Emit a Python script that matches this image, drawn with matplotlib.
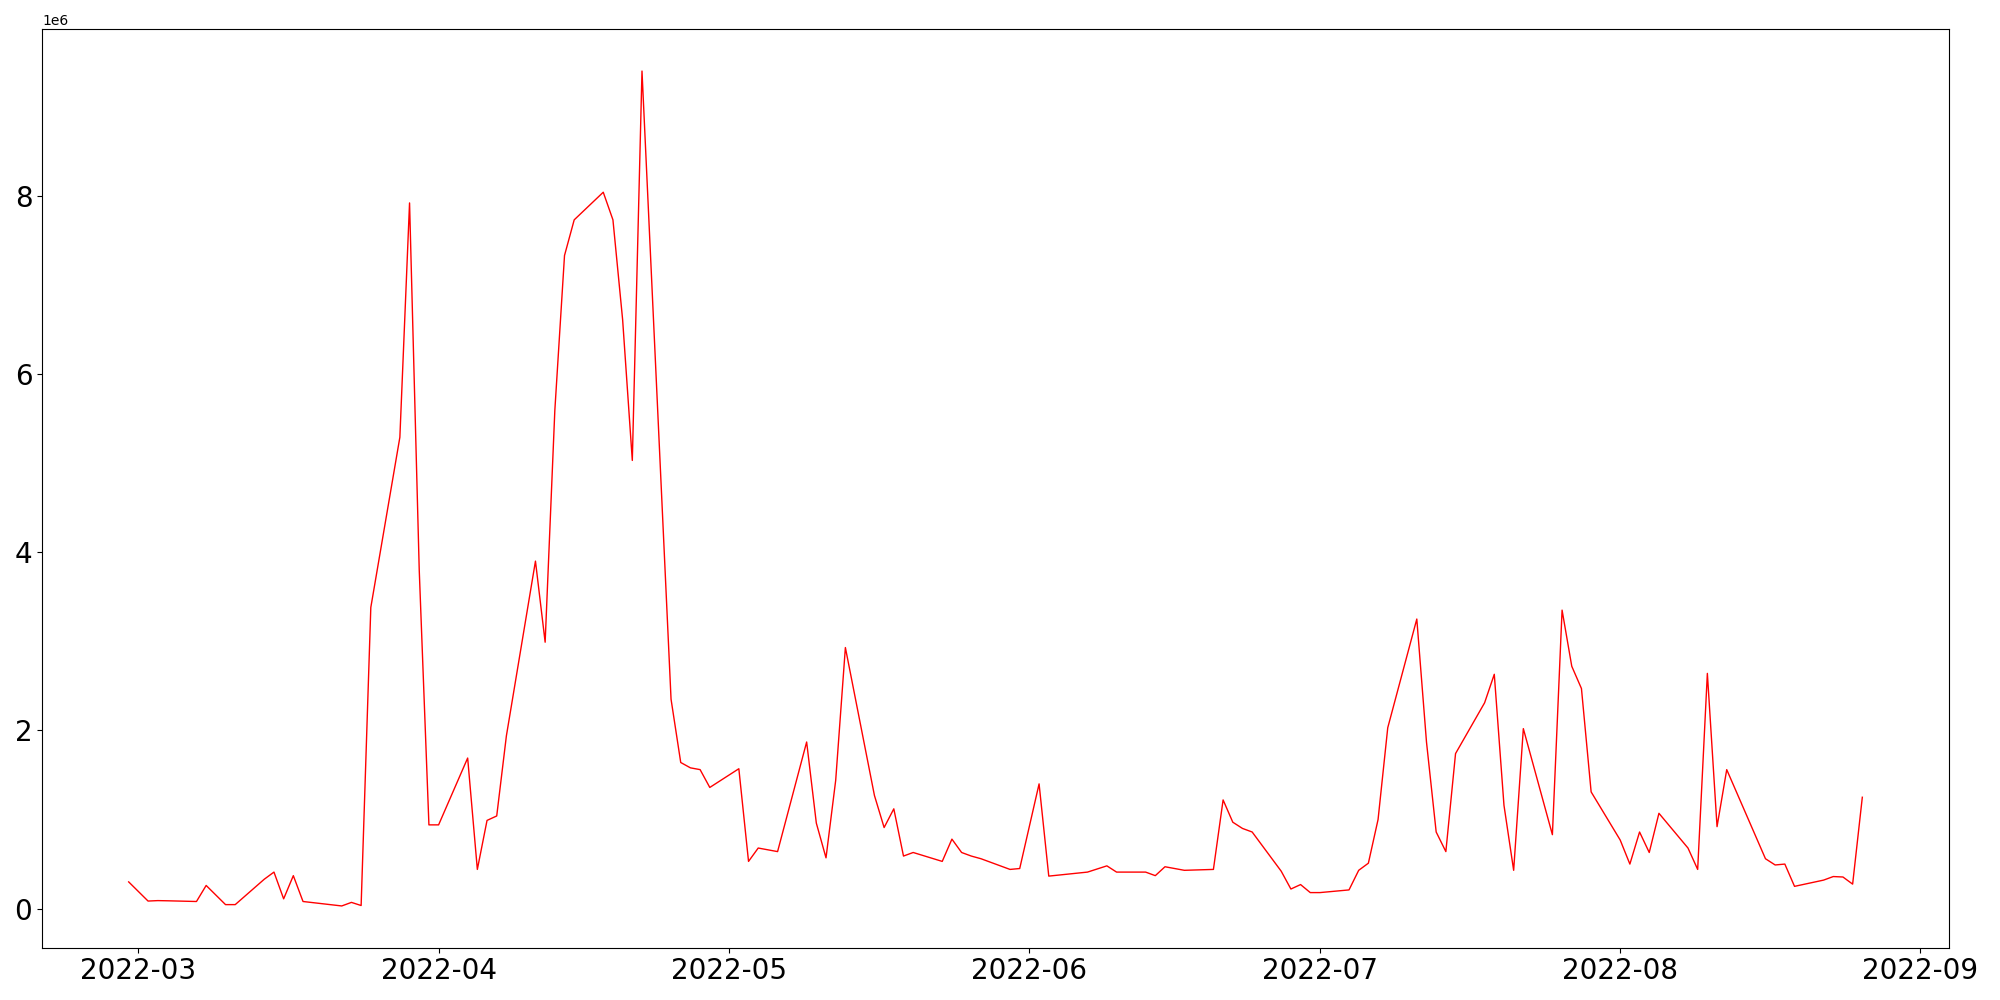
import pandas as pd
import matplotlib
matplotlib.use("Agg")
import matplotlib.pyplot as plt

dates = [
  "2022-02-28", "2022-03-02", "2022-03-03", "2022-03-04", "2022-03-07", "2022-03-08",
  "2022-03-10", "2022-03-11", "2022-03-14", "2022-03-15", "2022-03-16", "2022-03-17",
  "2022-03-18", "2022-03-22", "2022-03-23", "2022-03-24", "2022-03-25", "2022-03-28",
  "2022-03-29", "2022-03-30", "2022-03-31", "2022-04-01", "2022-04-04", "2022-04-05",
  "2022-04-06", "2022-04-07", "2022-04-08", "2022-04-11", "2022-04-12", "2022-04-13",
  "2022-04-14", "2022-04-15", "2022-04-18", "2022-04-19", "2022-04-20", "2022-04-21",
  "2022-04-22", "2022-04-25", "2022-04-26", "2022-04-27", "2022-04-28", "2022-04-29",
  "2022-05-02", "2022-05-03", "2022-05-04", "2022-05-05", "2022-05-06", "2022-05-09",
  "2022-05-10", "2022-05-11", "2022-05-12", "2022-05-13", "2022-05-16", "2022-05-17",
  "2022-05-18", "2022-05-19", "2022-05-20", "2022-05-23", "2022-05-24", "2022-05-25",
  "2022-05-26", "2022-05-27", "2022-05-30", "2022-05-31", "2022-06-02", "2022-06-03",
  "2022-06-07", "2022-06-09", "2022-06-10", "2022-06-13", "2022-06-14", "2022-06-15",
  "2022-06-17", "2022-06-20", "2022-06-21", "2022-06-22", "2022-06-23", "2022-06-24",
  "2022-06-27", "2022-06-28", "2022-06-29", "2022-06-30", "2022-07-01", "2022-07-04",
  "2022-07-05", "2022-07-06", "2022-07-07", "2022-07-08", "2022-07-11", "2022-07-12",
  "2022-07-13", "2022-07-14", "2022-07-15", "2022-07-18", "2022-07-19", "2022-07-20",
  "2022-07-21", "2022-07-22", "2022-07-25", "2022-07-26", "2022-07-27", "2022-07-28",
  "2022-07-29", "2022-08-01", "2022-08-02", "2022-08-03", "2022-08-04", "2022-08-05",
  "2022-08-08", "2022-08-09", "2022-08-10", "2022-08-11", "2022-08-12", "2022-08-16",
  "2022-08-17", "2022-08-18", "2022-08-19", "2022-08-22", "2022-08-23", "2022-08-24",
  "2022-08-25", "2022-08-26",
]

# values in millions
volume = [
  0.30, 0.085, 0.09, 0.088, 0.08, 0.26,
  0.045, 0.045, 0.33, 0.41, 0.11, 0.37,
  0.08, 0.03, 0.07, 0.035, 3.38, 5.29,
  7.92, 3.80, 0.94, 0.94, 1.69, 0.44,
  0.99, 1.04, 1.94, 3.90, 2.99, 5.59,
  7.33, 7.73, 8.04, 7.73, 6.61, 5.03,
  9.40, 2.35, 1.64, 1.58, 1.56, 1.36,
  1.57, 0.53, 0.68, 0.66, 0.64, 1.87,
  0.96, 0.57, 1.44, 2.93, 1.27, 0.91,
  1.12, 0.59, 0.63, 0.53, 0.78, 0.63,
  0.59, 0.56, 0.44, 0.45, 1.40, 0.365,
  0.41, 0.48, 0.41, 0.41, 0.37, 0.47,
  0.43, 0.44, 1.22, 0.97, 0.90, 0.86,
  0.42, 0.22, 0.27, 0.18, 0.18, 0.21,
  0.43, 0.51, 1.00, 2.03, 3.25, 1.87,
  0.86, 0.64, 1.74, 2.31, 2.63, 1.16,
  0.43, 2.02, 0.83, 3.35, 2.72, 2.47,
  1.31, 0.77, 0.50, 0.86, 0.63, 1.07,
  0.68, 0.44, 2.64, 0.92, 1.56, 0.56,
  0.49, 0.50, 0.25, 0.32, 0.36, 0.355,
  0.275, 1.25,
]

x = pd.to_datetime(dates)
y = [v * 1e6 for v in volume]

fig = plt.figure(figsize=(20, 10), dpi=100)
plt.plot(x, y, color='red', linewidth=1.0)
plt.xticks(fontsize=20)
plt.yticks(fontsize=20)
plt.subplots_adjust(left=0.021, right=0.9745, top=0.9707, bottom=0.0523)
plt.savefig("out.png")
